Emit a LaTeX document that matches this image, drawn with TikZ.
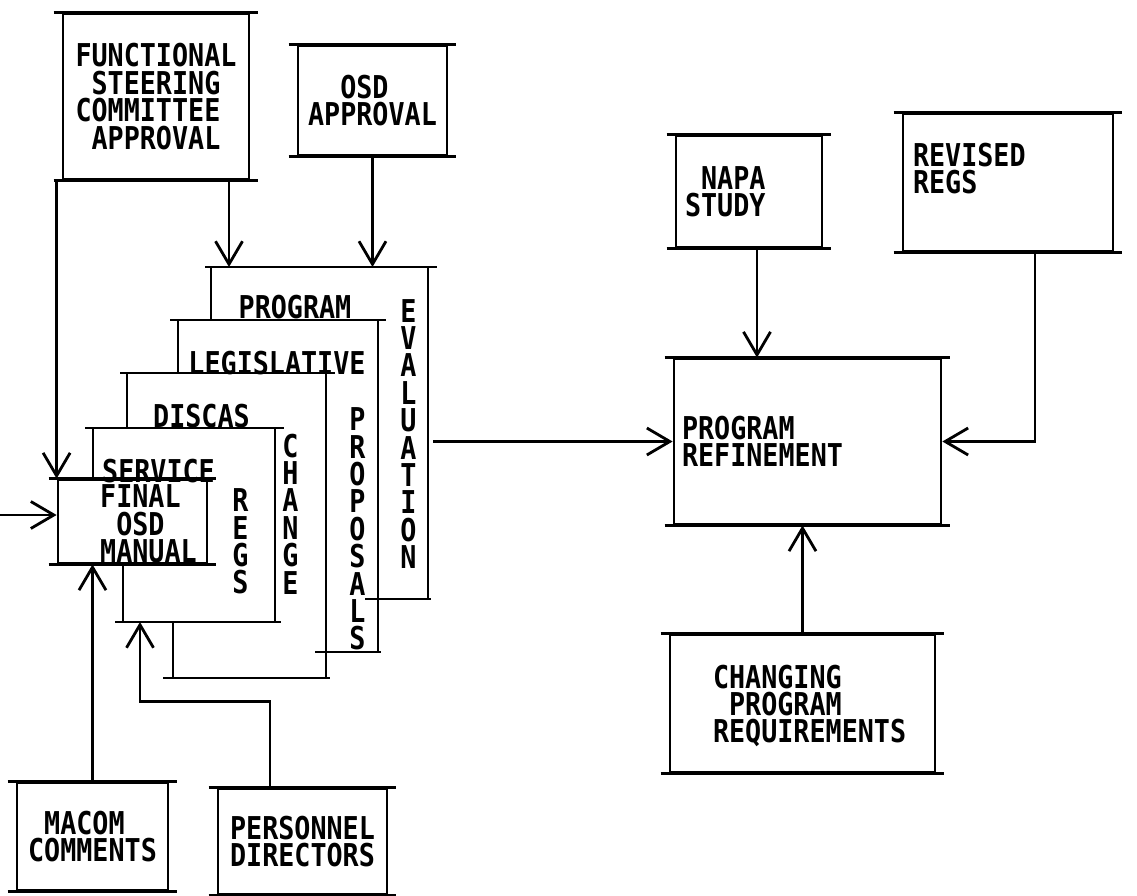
\documentclass[tikz,border=0pt]{standalone}
\usepackage{fontspec}
\usepackage{tikz}
\usetikzlibrary{arrows.meta}

\newfontfamily\chartfont{DejaVu Sans Mono}[FakeStretch=0.85]
\newcommand{\onech}{\hphantom{0}}

\tikzset{
  lbl/.style={font=\chartfont\bfseries\fontsize{17.9pt}{15.6pt}\selectfont, inner sep=0pt, align=left},
  vlbl/.style={lbl, align=center},
  box/.style={lbl, draw, append after command={
      ([xshift=-0.16cm]\tikzlastnode.north west) edge ([xshift=0.16cm]\tikzlastnode.north east)
      ([xshift=-0.16cm]\tikzlastnode.south west) edge ([xshift=0.16cm]\tikzlastnode.south east)}},
  arr/.style={-{Straight Barb[length=0.46cm, width=0.54cm]}},
}

\begin{document}
\begin{tikzpicture}[x=0.02cm, y=-0.02cm, line width=1.6pt]
\useasboundingbox (0,0) rectangle (1137,896);

% inputs on the left
\node[box, minimum width=3.72cm, minimum height=3.30cm] (func) at (156,96.5) {FUNCTIONAL\\\onech STEERING\\COMMITTEE\\\onech APPROVAL};
\node[box, minimum width=2.98cm, minimum height=2.18cm] (osdapp) at (372.5,100.5) {\onech\onech OSD\\APPROVAL};
\node[box, minimum width=3.02cm, minimum height=2.14cm] (macom) at (92.5,836.5) {\onech MACOM\\COMMENTS};
\node[box, minimum width=3.38cm, minimum height=2.10cm] (personnel) at (302.5,841.5) {PERSONNEL\\DIRECTORS};

% stacked sheets, back to front
\draw (205,267) -- (437,267) (211,267) -- (211,320) (428,267) -- (428,599) (365,599) -- (431,599);
\draw (170,320) -- (386,320) (178,320) -- (178,373) (378,320) -- (378,652) (315,652) -- (381,652);
\draw (120,373) -- (335,373) (127,373) -- (127,428) (326,373) -- (326,678) (163,678) -- (330,678) (173,622) -- (173,678);
\draw (85,428) -- (284,428) (93,428) -- (93,480) (275,428) -- (275,622) (115,622) -- (281,622) (123,563) -- (123,622);
\node[box, minimum width=2.98cm, minimum height=1.66cm] (final) at (132.5,521.5) {};

\node[lbl] (prog-t) at (295,307.5) {PROGRAM};
\node[lbl] (leg-t) at (277,363) {LEGISLATIVE};
\node[lbl] (disc-t) at (201.5,416) {DISCAS};
\node[lbl] (serv-t) at (158.5,471.5) {SERVICE};
\node[lbl] (final-t) at (148.5,524) {FINAL\\\onech OSD\\MANUAL};
\node[vlbl] (eval-t) at (408.5,434) {E\\V\\A\\L\\U\\A\\T\\I\\O\\N};
\node[vlbl] (prop-t) at (357.5,529) {P\\R\\O\\P\\O\\S\\A\\L\\S};
\node[vlbl] (chg-t) at (290.5,514) {C\\H\\A\\N\\G\\E};
\node[vlbl] (regs-t) at (240.5,541.5) {R\\E\\G\\S};

% right half
\node[box, minimum width=2.92cm, minimum height=2.22cm] (napa) at (749,191.5) {};
\node[lbl, anchor=west] (napa-t) at ([xshift=0.18cm]napa.west) {\onech NAPA\\STUDY};
\node[box, minimum width=4.20cm, minimum height=2.74cm] (revregs) at (1008,182.5) {};
\node[lbl, anchor=north west] (revregs-t) at ([xshift=0.2cm, yshift=-0.58cm]revregs.north west) {REVISED\\REGS};
\node[box, minimum width=5.34cm, minimum height=3.30cm] (refine) at (807.5,441.5) {};
\node[lbl, anchor=west] (refine-t) at ([xshift=0.16cm]refine.west) {PROGRAM\\REFINEMENT};
\node[box, minimum width=5.30cm, minimum height=2.74cm] (changing) at (802.5,703.5) {};
\node[lbl, anchor=west] (changing-t) at ([xshift=0.86cm, yshift=-0.05cm]changing.west) {CHANGING\\\onech PROGRAM\\REQUIREMENTS};

% connectors
\coordinate (prog-in) at (229,267);
\coordinate (serv-in) at (140,622);
\coordinate (eval-out) at (433,441.5);
\coordinate (side-in) at (0,515);

\draw[arr] (final.north west |- func.south) -- (final.north west);
\draw[arr] (func.south -| prog-in) -- (prog-in);
\draw[arr] (osdapp) -- (osdapp |- prog-in);
\draw[arr] (side-in) -- (side-in -| final.west);
\draw[arr] (macom) -- (macom |- final.south);
\draw[arr] ([xshift=-0.65cm]personnel.north) -- ++(0,-86) -| (serv-in);
\draw[arr] (eval-out) -- (refine.west);
\draw[arr] ([xshift=0.16cm]napa.south) -- ([xshift=0.16cm]napa.south |- refine.north);
\draw[arr] ([xshift=0.54cm]revregs.south) |- (refine.east);
\draw[arr] (changing) -- (changing |- refine.south);
\end{tikzpicture}
\end{document}
